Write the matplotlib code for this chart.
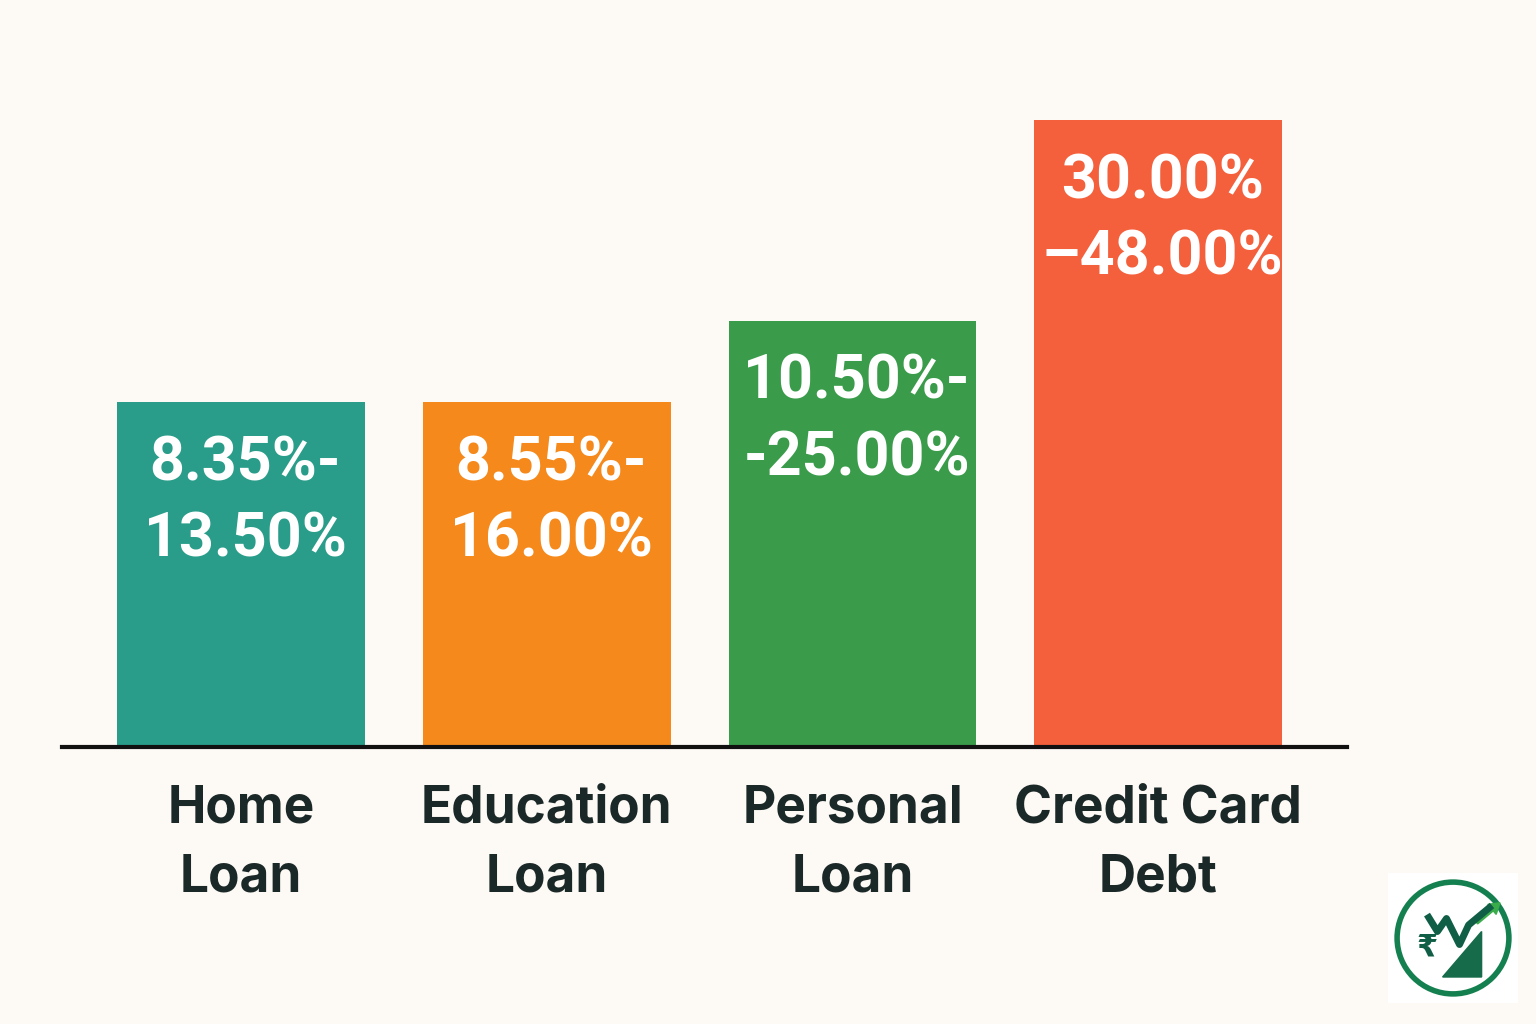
import matplotlib
matplotlib.use("Agg")
from matplotlib import pyplot as plt
from matplotlib.patches import Circle, Rectangle, FancyArrow

# data (bar heights are relative, tallest = 100)
categories = ["Home\nLoan", "Education\nLoan", "Personal\nLoan", "Credit Card\nDebt"]
rate_labels = ["8.35%-\n13.50%", "8.55%-\n16.00%", "10.50%-\n-25.00%", "30.00%\n\u201348.00%"]
bar_heights = [55, 55, 68, 100]
colors = ["#2a9d8a", "#f5891b", "#3a9c4b", "#f45f3c"]

bg = "#fdf9f5"
dark = "#1b2828"

plt.rcParams['font.family'] = ['Inter', 'DejaVu Sans']

fig = plt.figure(figsize=(15.36, 10.24), dpi=100, facecolor=bg)

# axes spans the baseline line (x 62..1347 px, baseline at y=747 px)
ax = fig.add_axes([62 / 1536, 277 / 1024, 1285 / 1536, 687 / 1024])
ax.set_facecolor(bg)

xs = list(range(len(categories)))
ax.bar(xs, bar_heights, width=0.81, color=colors, zorder=2)

for x, h, lab in zip(xs, bar_heights, rate_labels):
    ax.annotate(lab, xy=(x, h), xytext=(3, -23), textcoords="offset points",
                ha="center", va="top", color="white", fontsize=44,
                fontweight="bold", linespacing=1.4, zorder=3,
                family=["Roboto", "DejaVu Sans"])

ax.set_xlim(-0.586, 3.618)
ax.set_ylim(0, 109.6)

for s in ["top", "right", "left"]:
    ax.spines[s].set_visible(False)
ax.spines["bottom"].set_linewidth(3)
ax.spines["bottom"].set_color("#111111")
ax.spines["bottom"].set_zorder(4)

ax.set_yticks([])
ax.set_xticks(xs)
ax.set_xticklabels(categories, fontsize=37, fontweight="bold", color=dark,
                   linespacing=1.52)
ax.tick_params(axis="x", length=0, pad=27)

# small round logo in the bottom right corner
lax = fig.add_axes([1388 / 1536, 21 / 1024, 130 / 1536, 130 / 1024])
lax.set_xlim(0, 1)
lax.set_ylim(0, 1)
lax.axis("off")
lax.add_patch(Rectangle((0, 0), 1, 1, color="white"))
lax.add_patch(Circle((0.5, 0.5), 0.43, fill=False, ec="#15804f", lw=4))
lax.plot([0.3, 0.38, 0.45, 0.55, 0.62, 0.8], [0.68, 0.55, 0.65, 0.45, 0.6, 0.75],
         color="#0f5e45", lw=5, solid_capstyle="butt")
lax.add_patch(FancyArrow(0.68, 0.62, 0.12, 0.1, width=0.03, head_width=0.1,
                         head_length=0.08, color="#3aac4a"))
lax.fill([0.42, 0.72, 0.72, 0.42], [0.2, 0.55, 0.2, 0.2], color="#156b4a")
lax.text(0.3, 0.42, "\u20b9", fontsize=22, color="#0f5e45", ha="center",
         va="center", fontweight="bold", family=["DejaVu Sans"])

fig.savefig("out.png", dpi=100, facecolor=bg)
